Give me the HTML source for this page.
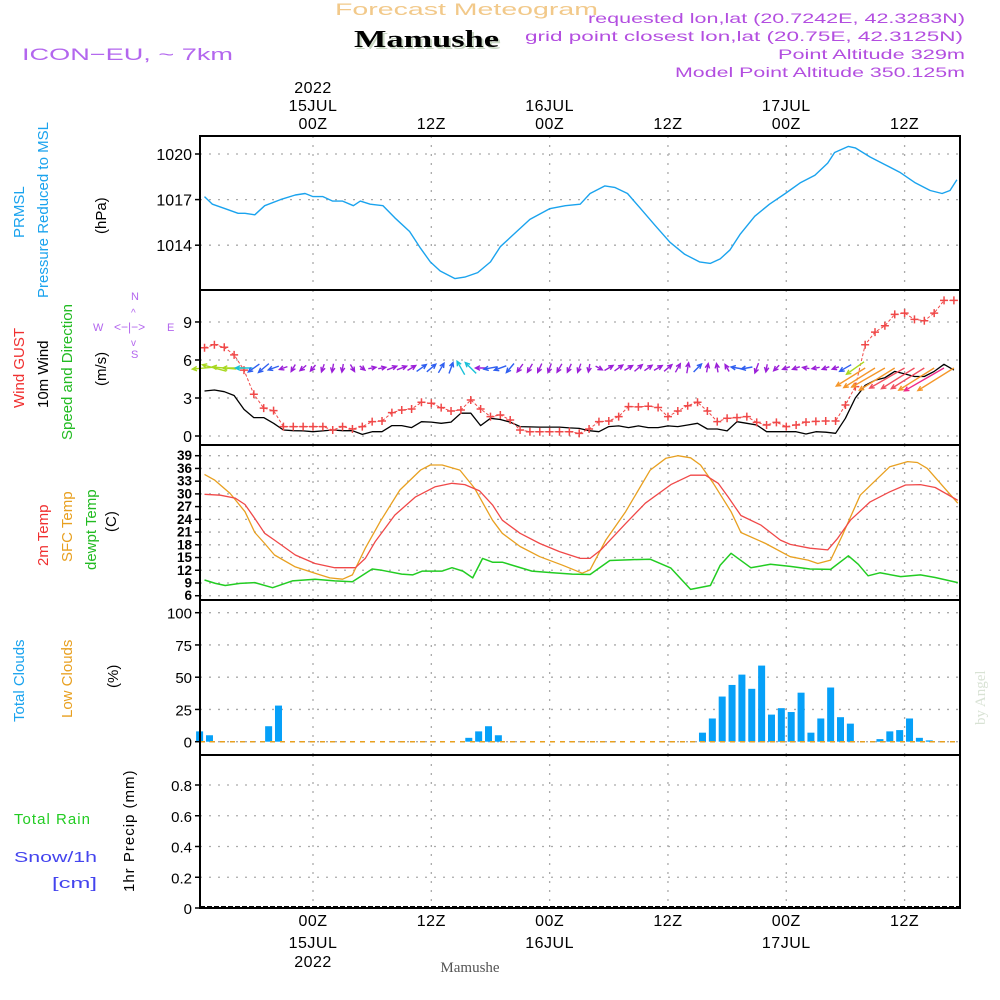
<!DOCTYPE html>
<html><head><meta charset="utf-8"><style>
html,body{margin:0;padding:0;background:#fff;}
svg{display:block;font-family:"Liberation Sans",sans-serif;}
.t{font-size:15px;}
.tk{font-size:16px;fill:#000;}
</style></head><body>
<svg id="chart" width="1000" height="1000" viewBox="0 0 1000 1000" xmlns="http://www.w3.org/2000/svg">
<rect width="1000" height="1000" fill="#fff"/>
<text x="335" y="15" font-size="17" fill="#f2c98a" textLength="263" lengthAdjust="spacingAndGlyphs">Forecast Meteogram</text>
<text x="356" y="49" font-size="24" font-weight="bold" font-family="Liberation Serif,serif" fill="#c9d8c4" textLength="145" lengthAdjust="spacingAndGlyphs">Mamushe</text>
<text x="354" y="47" font-size="24" font-weight="bold" font-family="Liberation Serif,serif" fill="#000" textLength="145" lengthAdjust="spacingAndGlyphs">Mamushe</text>
<text x="22" y="60" font-size="17" fill="#b366ee" textLength="211" lengthAdjust="spacingAndGlyphs">ICON−EU, ~ 7km</text>
<g fill="#b34ee0" font-size="14">
<text x="588" y="23" textLength="377" lengthAdjust="spacingAndGlyphs">requested lon,lat (20.7242E, 42.3283N)</text>
<text x="525" y="41" textLength="438" lengthAdjust="spacingAndGlyphs">grid point closest lon,lat (20.75E, 42.3125N)</text>
<text x="778" y="59" textLength="187" lengthAdjust="spacingAndGlyphs">Point Altitude 329m</text>
<text x="675" y="77" textLength="290" lengthAdjust="spacingAndGlyphs">Model Point Altitude 350.125m</text>
</g>
<g id="toplabels"></g>
<g id="botlabels"></g>
<text x="470" y="972" font-size="15" font-family="Liberation Serif,serif" fill="#555" text-anchor="middle">Mamushe</text>
<text transform="translate(985,725) rotate(-90)" font-size="15" font-family="Liberation Serif,serif" fill="#d8e2d4">by Angel</text>

<text transform="translate(24,238) rotate(-90)" class="t" fill="#1aa3ee">PRMSL</text>
<text transform="translate(48,298) rotate(-90)" class="t" fill="#1aa3ee">Pressure Reduced to MSL</text>
<text transform="translate(106,234) rotate(-90)" class="t" fill="#000">(hPa)</text>
<text transform="translate(24,408) rotate(-90)" class="t" fill="#f03030">Wind GUST</text>
<text transform="translate(48,408) rotate(-90)" class="t" fill="#000">10m Wind</text>
<text transform="translate(72,440) rotate(-90)" class="t" fill="#22bb22">Speed and Direction</text>
<text transform="translate(106,386) rotate(-90)" class="t" fill="#000">(m/s)</text>
<g fill="#b366ee" font-size="11">
<text x="93" y="331">W</text><text x="167" y="331">E</text>
<text x="131" y="300">N</text><text x="131" y="358">S</text>
<text x="114" y="331" font-size="12">&lt;−|−&gt;</text>
<text x="131" y="316" font-size="10">^</text><text x="131" y="346" font-size="10">v</text>
</g>
<text transform="translate(48,566) rotate(-90)" class="t" fill="#f03030">2m Temp</text>
<text transform="translate(72,562) rotate(-90)" class="t" fill="#e8a020">SFC Temp</text>
<text transform="translate(96,570) rotate(-90)" class="t" fill="#22bb22">dewpt Temp</text>
<text transform="translate(116,532) rotate(-90)" class="t" fill="#000">(C)</text>
<text transform="translate(24,722) rotate(-90)" class="t" fill="#1aa3ee">Total Clouds</text>
<text transform="translate(72,718) rotate(-90)" class="t" fill="#e8a020">Low Clouds</text>
<text transform="translate(118,688) rotate(-90)" class="t" fill="#000">(%)</text>
<text x="14" y="824" class="t" fill="#22cc22" textLength="76" lengthAdjust="spacing">Total Rain</text>
<text x="14" y="862" class="t" fill="#4444ee" textLength="83" lengthAdjust="spacingAndGlyphs">Snow/1h</text>
<text x="52" y="888" class="t" fill="#4444ee" textLength="45" lengthAdjust="spacingAndGlyphs">[cm]</text>
<text transform="translate(134,892) rotate(-90)" class="t" fill="#000" letter-spacing="1">1hr Precip (mm)</text>

<g id="grid"></g>
<g id="marks"></g>
<g id="frames"></g>
<g id="yticks"></g>
</svg>
<script>
const timeTickHours = [0,12,24,36,48,60];
const timeTickLabels = ["00Z","12Z","00Z","12Z","00Z","12Z"];
const dateLabels = ["15JUL","","16JUL","","17JUL",""];
const pressHours = [-11,-10.2,-8.9,-7.6,-6.9,-5.9,-4.9,-3.3,-1.8,-0.8,0,1,2,3,4.1,4.8,5.8,7.1,8.3,9.8,10.9,11.9,12.9,14.4,15.4,16.7,18,19,20.5,22,24,25.6,27.1,28.1,29.6,30.6,31.9,33.1,34.7,36.2,37.7,39.2,40.3,41.3,42.3,43.3,44.8,46.3,47.9,49.4,50.9,52.2,52.9,54.3,55,56.5,58,59.5,61.1,62.6,63.8,64.6,65.3];
const pressValues = [1017.2,1016.7,1016.4,1016.1,1016.1,1016.0,1016.6,1017.0,1017.3,1017.4,1017.2,1017.2,1016.9,1016.9,1016.6,1016.9,1016.7,1016.6,1015.8,1014.9,1013.8,1012.9,1012.3,1011.8,1011.9,1012.2,1012.9,1013.9,1014.8,1015.7,1016.4,1016.6,1016.7,1017.4,1017.9,1017.8,1017.4,1016.5,1015.3,1014.2,1013.4,1012.9,1012.8,1013.1,1013.7,1014.7,1015.9,1016.7,1017.4,1018.1,1018.6,1019.4,1020.1,1020.5,1020.4,1019.8,1019.3,1018.8,1018.1,1017.6,1017.4,1017.6,1018.3];
const pressTicks = [1014,1017,1020];
const windHours0 = -11;
const gustValues = [6.97,7.2,7.0,6.4,5.2,3.3,2.2,2.0,0.74,0.74,0.74,0.74,0.74,0.47,0.74,0.55,0.74,1.13,1.18,1.84,2.05,2.13,2.66,2.58,2.24,1.97,2.05,2.84,2.13,1.53,1.66,1.26,0.47,0.34,0.34,0.34,0.34,0.34,0.21,0.55,1.13,1.18,1.53,2.32,2.3,2.35,2.25,1.53,1.97,2.39,2.66,1.97,1.13,1.4,1.45,1.53,1.08,0.87,1.08,0.74,0.87,1.1,1.15,1.18,1.18,2.45,3.9,7.2,8.2,8.7,9.6,9.7,9.2,9.1,9.7,10.7,10.7];
const windValues = [3.55,3.63,3.5,3.2,2.1,1.45,1.45,1.0,0.47,0.42,0.4,0.34,0.4,0.47,0.42,0.42,0.13,0.34,0.34,0.82,0.82,0.66,1.13,1.1,1.0,1.1,1.8,1.8,0.82,1.4,1.3,1.1,0.74,0.72,0.7,0.7,0.7,0.64,0.6,0.42,0.34,0.74,0.8,0.66,0.8,0.66,0.66,0.8,0.74,0.87,1.0,0.55,0.55,0.4,1.13,1.0,0.87,0.34,0.34,0.34,0.34,0.16,0.34,0.3,0.21,1.4,3.0,4.0,4.4,4.6,5.1,4.9,4.7,4.7,5.1,5.66,5.2];
const windDirs = [185,165,175,180,180,215,220,200,200,240,220,230,250,260,260,300,320,10,10,20,20,30,35,40,60,70,120,135,180,190,200,230,235,240,245,250,240,245,250,260,330,30,35,30,40,35,30,40,60,80,45,80,100,120,170,190,250,260,225,200,200,170,190,200,200,210,215,212,212,210,212,210,212,212,212,210,212];
const windTicks = [0,3,6,9];
const t2Hours = [-11,-9.4,-7.9,-6.9,-5.9,-4.9,-3.9,-1.8,0.2,2.2,4.3,5.3,6.3,8.3,10.4,12.4,14.1,15.4,16.9,18.2,19.2,21,23,25,27.1,28.1,29.2,31.7,33.7,36.3,38.3,39.8,41.1,42.1,43.4,45.4,47.4,48.4,50.4,52.2,53.2,54.5,56.5,58.5,60.1,61.6,63.1,65.4];
const t2Values = [29.9,29.7,29.0,27.5,24.2,20.7,19.1,15.6,13.6,12.6,12.6,14.8,18.7,25,29.3,31.7,32.5,32.2,30.7,27.4,23.8,20.7,18.3,16.4,14.8,14.8,16.8,23,27.8,32.2,34.4,34.4,32.5,29.3,24.9,22.7,19.1,18.1,17.2,16.8,19.5,23.8,28.1,30.5,32.1,32.2,31.5,28.5];
const sfcHours = [-11,-10,-8.4,-6.9,-5.9,-4.9,-3.9,-1.8,0.2,1.7,3,4,5.3,6.8,8.8,10.9,11.9,13.1,14.9,16.4,18.2,19.2,21,23,25.3,27.3,28.1,29.7,31.7,34.2,35.8,37,38.3,39.3,40.6,42.4,43.4,45.9,48.4,50.2,51.2,52.5,53.7,55.5,58.5,60.3,61.3,62.3,65.4];
const sfcValues = [34.6,33.3,30.1,25.8,20.9,18.3,15.6,12.8,11.3,10.2,9.9,10.9,17.2,23.4,30.9,35.6,36.8,36.8,35.6,31.3,23.8,20.7,17.6,15.2,13.2,11.3,12.1,19.1,25.8,35.6,38.4,39,38.5,36.8,32.5,25.8,20.9,18.3,15.2,14.4,13.6,14.4,20.3,29.7,36.4,37.6,37.4,36,27.8];
const dewHours = [-11,-9.9,-8.9,-7.4,-5.9,-4.1,-2.1,0.2,2.2,4,6,7,9,10.1,11.1,13.1,14.1,15.2,16.2,17.2,18.2,19.2,22.2,24.3,26.3,28.1,30.1,32.2,34.2,36.3,38.3,40.3,41.3,42.4,44.4,46.4,48.4,50.4,52.5,54.3,55.3,56.3,57.5,59.6,61.6,63.1,65.4];
const dewValues = [9.7,8.9,8.4,8.9,9.1,7.9,9.5,9.9,9.5,9.3,12.3,12,11.1,10.9,11.8,11.8,12.6,11.8,10.2,14.8,13.9,13.9,11.8,11.4,11.1,11.0,14.3,14.5,14.6,12.5,7.5,8.4,13.2,16,12.6,13.4,12.9,12.3,12.2,15.4,13.4,10.7,11.4,10.5,10.9,10.3,9.1];
const tempTicks = [6,9,12,15,18,21,24,27,30,33,36,39];
const cloudHours = [-11.5,-10.5,-4.5,-3.5,15.8,16.8,17.8,18.8,39.5,40.5,41.5,42.5,43.5,44.5,45.5,46.5,47.5,48.5,49.5,50.5,51.5,52.5,53.5,54.5,57.5,58.5,59.5,60.5,61.5,62.5];
const cloudValues = [8,5,12,28,3,8,12,5,7,18,35,44,52,41,59,21,26,23,38,7,18,42,19,14,2,8,9,18,3,1];
const cloudTicks = [0,25,50,75,100];
const precipTicks = [0,0.2,0.4,0.6,0.8];
const precipLabels = ["0","0.2","0.4","0.6","0.8"];

const L=200,R=960;
const X=h=>313+h*9.86;
const yP=v=>154+(1020-v)*15.2;
const yW=v=>436-v*12.67;
const yT=v=>455.7+(39-v)*4.243;
const yC=v=>741.7-v*1.29;
const yR=v=>908-v*153.75;
const panels=[[136,290],[290,445],[445,600],[600,755],[755,908]];
const NS="http://www.w3.org/2000/svg";
function mk(parent,tag,attrs){const e=document.createElementNS(NS,tag);for(const k in attrs)e.setAttribute(k,attrs[k]);parent.appendChild(e);return e;}
const grid=document.getElementById('grid'),marks=document.getElementById('marks'),frames=document.getElementById('frames'),yt=document.getElementById('yticks');
const gs={stroke:"#aaa","stroke-width":1.3,"stroke-dasharray":"2 7"};

timeTickHours.forEach((h,i)=>{
  panels.forEach(p=>{const l=mk(grid,'line',Object.assign({x1:X(h),x2:X(h),y1:p[0],y2:p[1]},gs));
    
    });
  const top=document.getElementById('toplabels'),bot=document.getElementById('botlabels');
  const a=mk(top,'text',{x:X(h),y:129,'text-anchor':'middle',class:'tk','letter-spacing':'0.5'});a.textContent=timeTickLabels[i];
  
  
  const b=mk(bot,'text',{x:X(h),y:926,'text-anchor':'middle',class:'tk','letter-spacing':'0.5'});b.textContent=timeTickLabels[i];
  
  
  if(dateLabels[i]){
    const c=mk(top,'text',{x:X(h),y:111,'text-anchor':'middle',class:'tk','letter-spacing':'0.5'});c.textContent=dateLabels[i];
    
    
    const d=mk(bot,'text',{x:X(h),y:948,'text-anchor':'middle',class:'tk','letter-spacing':'0.5'});d.textContent=dateLabels[i];
    
    
  }
  if(i===0){
    const e=mk(top,'text',{x:X(h),y:93,'text-anchor':'middle',class:'tk','letter-spacing':'0.5'});e.textContent="2022";
    
    
    const f=mk(bot,'text',{x:X(h),y:967,'text-anchor':'middle',class:'tk','letter-spacing':'0.5'});f.textContent="2022";
    
    
  }
});

function yaxis(ticks,labels,fy,name,fs,bold){
  ticks.forEach((v,i)=>{
    const y=fy(v);
    const g=mk(grid,'line',Object.assign({x1:L,x2:R,y1:y,y2:y},gs));
    
    
    const t=mk(yt,'line',{x1:L-5,x2:L,y1:y,y2:y,stroke:"#000","stroke-width":1.5});
    
    
    const tx=mk(yt,'text',{x:L-8,y:y+(bold?4.5:6),'text-anchor':'end','font-size':fs,'font-weight':bold?'bold':'normal',fill:'#000'});
    tx.textContent=labels?labels[i]:String(v);
    
    
  });
}
yaxis(pressTicks,null,yP,'pressure',16,false);
yaxis(windTicks,null,yW,'wind',16,false);
yaxis(tempTicks,null,yT,'temp',13.5,true);
yaxis(cloudTicks,null,yC,'clouds',15,false);
yaxis(precipTicks,precipLabels,yR,'precip',15,false);

function line(hs,vs,fy,color,name,w){
  const d=hs.map((h,i)=>(i?'L':'M')+X(h).toFixed(1)+' '+fy(vs[i]).toFixed(1)).join(' ');
  const p=mk(marks,'path',{d:d,fill:'none',stroke:color,'stroke-width':w||1.3,'stroke-linejoin':'round'});
  
  
  return p;
}
line(pressHours,pressValues,yP,'#1aa3ee','pressure-line',1.4);

const wh=windValues.map((v,i)=>windHours0+i);
line(wh,windValues,yW,'#000','wind-speed-line',1.3);
const gp=line(wh,gustValues,yW,'#f04848','gust-line',1);
gp.setAttribute('stroke-dasharray','3 2');
gustValues.forEach((v,i)=>{
  const x=X(windHours0+i),y=yW(v);
  const c=mk(marks,'path',{d:`M${x-4} ${y}H${x+4}M${x} ${y-4}V${y+4}`,stroke:'#f04848','stroke-width':1.5});
  
  
});
function wcol(s){return s<0.9?'#9b1fd8':s<1.6?'#2f5ff0':s<2.6?'#18c0d8':s<3.8?'#a8d820':s<4.65?'#f5962a':s<5.0?'#f05060':s<5.4?'#f5962a':'#f02a88';}
windDirs.forEach((dg,i)=>{
  const s=windValues[i],a=dg*Math.PI/180;
  let x1,y1,x2,y2;
  if(s>3.9){
    const len=6+s*7;
    x1=X(windHours0+i);y1=368;
    x2=x1+Math.cos(a)*len;y2=y1-Math.sin(a)*len;
  }else{
    const len=6+s*5.2,cx=X(windHours0+i),cy=368;
    const dx=Math.cos(a)*len/2,dy=-Math.sin(a)*len/2;
    x1=cx-dx;y1=cy-dy;x2=cx+dx;y2=cy+dy;
  }
  const hl=5,b1=a+Math.PI-0.45,b2=a+Math.PI+0.45;
  const d=`M${x1.toFixed(1)} ${y1.toFixed(1)}L${x2.toFixed(1)} ${y2.toFixed(1)}M${(x2+Math.cos(b1)*hl).toFixed(1)} ${(y2-Math.sin(b1)*hl).toFixed(1)}L${x2.toFixed(1)} ${y2.toFixed(1)}L${(x2+Math.cos(b2)*hl).toFixed(1)} ${(y2-Math.sin(b2)*hl).toFixed(1)}`;
  const p=mk(marks,'path',{d:d,stroke:wcol(s),'stroke-width':1.4,fill:'none'});
  
  
});

line(sfcHours,sfcValues,yT,'#e8a020','sfc-temp-line',1.3);
line(t2Hours,t2Values,yT,'#f04848','temp-2m-line',1.3);
line(dewHours,dewValues,yT,'#22cc22','dewpoint-line',1.5);

cloudHours.forEach((h,i)=>{
  const x=X(h),y=yC(cloudValues[i]);
  const r=mk(marks,'rect',{x:x-3.5,y:y,width:7,height:yC(0)-y,fill:'#06a0f8'});
  
  
});
const lc=mk(marks,'line',{x1:L,x2:R,y1:yC(0),y2:yC(0),stroke:'#e8a020','stroke-width':1.5,'stroke-dasharray':'5 5'});


const pz=mk(marks,'line',{x1:L,x2:R,y1:yR(0)-1,y2:yR(0)-1,stroke:'#000','stroke-width':2,'stroke-dasharray':'5 2'});



const clip=mk(frames,'rect',{x:R+1,y:290,width:38,height:155,fill:'#fff'});


panels.forEach(p=>{
  const r=mk(frames,'rect',{x:L,y:p[0],width:R-L,height:p[1]-p[0],fill:'none',stroke:'#000','stroke-width':2});
  
  
});
</script>
</body></html>
